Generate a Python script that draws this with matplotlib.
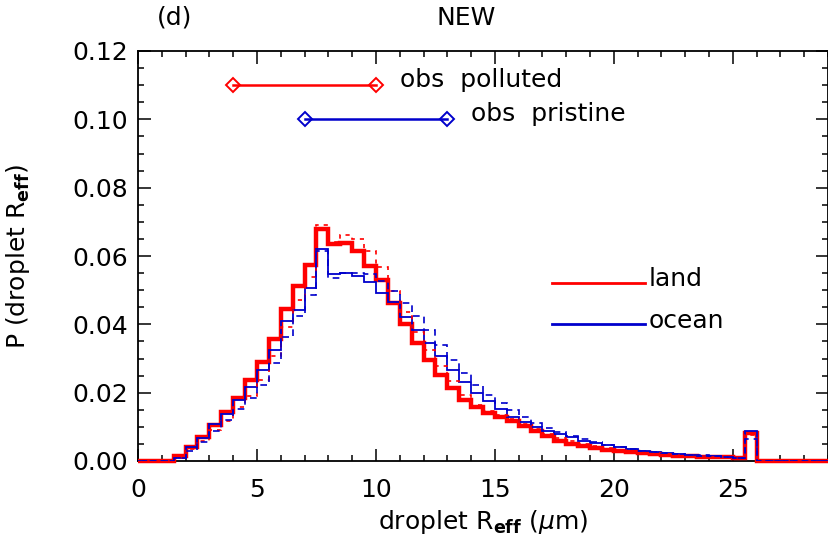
import numpy as np
import matplotlib
matplotlib.use('Agg')
import matplotlib.pyplot as plt
from matplotlib.ticker import MultipleLocator, FormatStrFormatter

plt.rcParams['font.family'] = 'DejaVu Sans'
plt.rcParams['mathtext.fontset'] = 'dejavusans'

# bin edges of the droplet Reff histogram (0.5 um bins, 0..29 um)
edges = np.arange(0, 29.01, 0.5)

# NEW model, land (thick red) and ocean (thin blue)
land_new = [0, 0, 0,
            0.0015, 0.0042, 0.0070, 0.0104, 0.0143, 0.0183, 0.0236, 0.0290, 0.0358, 0.0445,
            0.0512, 0.0575, 0.0680, 0.0634, 0.0637, 0.0615, 0.0572, 0.0530, 0.0463, 0.0400,
            0.0345, 0.0296, 0.0252, 0.0213, 0.0179, 0.0157, 0.0141, 0.0130, 0.0117, 0.0101,
            0.0088, 0.0073, 0.0060, 0.0051, 0.0043, 0.0037, 0.0032, 0.0028, 0.0025, 0.0023,
            0.0020, 0.0018, 0.0016, 0.0015, 0.0013, 0.0012, 0.0011, 0.0008, 0.0083,
            0, 0, 0, 0, 0, 0]
ocean_new = [0, 0, 0,
             0.0010, 0.0040, 0.0068, 0.0107, 0.0138, 0.0179, 0.0216, 0.0265, 0.0326, 0.0409,
             0.0443, 0.0507, 0.0621, 0.0546, 0.0551, 0.0541, 0.0523, 0.0493, 0.0465, 0.0422,
             0.0384, 0.0345, 0.0306, 0.0267, 0.0230, 0.0199, 0.0177, 0.0151, 0.0128, 0.0114,
             0.0100, 0.0088, 0.0078, 0.0069, 0.0059, 0.0052, 0.0046, 0.0040, 0.0034, 0.0029,
             0.0026, 0.0023, 0.0021, 0.0018, 0.0016, 0.0015, 0.0013, 0.0009, 0.0089,
             0, 0, 0, 0, 0, 0]
# reference model (dotted / dashed)
land_ref = [0, 0, 0,
            0.0010, 0.0035, 0.0060, 0.0090, 0.0118, 0.0158, 0.0190, 0.0238, 0.0306, 0.0392,
            0.0470, 0.0540, 0.0690, 0.0640, 0.0661, 0.0651, 0.0614, 0.0568, 0.0497, 0.0435,
            0.0379, 0.0326, 0.0277, 0.0233, 0.0194, 0.0164, 0.0145, 0.0135, 0.0122, 0.0108,
            0.0094, 0.0080, 0.0068, 0.0058, 0.0050, 0.0043, 0.0037, 0.0032, 0.0029, 0.0026,
            0.0023, 0.0021, 0.0019, 0.0017, 0.0015, 0.0013, 0.0012, 0.0009, 0.0075,
            0, 0, 0, 0, 0, 0]
ocean_ref = [0, 0, 0,
             0.0008, 0.0030, 0.0055, 0.0088, 0.0121, 0.0153, 0.0185, 0.0222, 0.0288, 0.0362,
             0.0425, 0.0485, 0.0615, 0.0535, 0.0549, 0.0551, 0.0546, 0.0526, 0.0497, 0.0463,
             0.0425, 0.0382, 0.0340, 0.0296, 0.0257, 0.0223, 0.0194, 0.0169, 0.0148, 0.0130,
             0.0112, 0.0096, 0.0084, 0.0073, 0.0063, 0.0055, 0.0048, 0.0041, 0.0035, 0.0030,
             0.0027, 0.0024, 0.0021, 0.0019, 0.0017, 0.0015, 0.0013, 0.0009, 0.0064,
             0, 0, 0, 0, 0, 0]

# observed ranges
obs_polluted = (4.0, 10.0, 0.110)
obs_pristine = (7.0, 13.0, 0.100)

red = '#ff0000'
blue = '#0000cc'
fs = 18

fig = plt.figure(figsize=(8.29, 5.45), dpi=100)
ax = fig.add_axes([138 / 829, 84 / 545, 690 / 829, 410 / 545])

ax.stairs(land_new, edges, color=red, lw=3.2, baseline=None, clip_on=False, zorder=3)
ax.stairs(ocean_new, edges, color=blue, lw=1.3, baseline=None, zorder=4)
ax.stairs(land_ref, edges, color=red, lw=1.2, ls=(0, (2.5, 3)), baseline=None, zorder=5)
ax.stairs(ocean_ref, edges, color=blue, lw=1.2, ls=(0, (4, 3)), baseline=None, zorder=5)

# obs ranges
ax.plot(obs_polluted[:2], [obs_polluted[2]] * 2, color=red, lw=1.8,
        marker='D', ms=7, mfc='none', mew=1.4)
ax.plot(obs_pristine[:2], [obs_pristine[2]] * 2, color=blue, lw=1.8,
        marker='D', ms=7, mfc='none', mew=1.4)
ax.text(11.0, 0.1115, 'obs  polluted', fontsize=fs, va='center', ha='left')
ax.text(14.0, 0.1015, 'obs  pristine', fontsize=fs, va='center', ha='left')

# legend drawn by hand, as in the original
ax.plot([17.4, 21.3], [0.0522, 0.0522], color=red, lw=2.0)
ax.plot([17.4, 21.3], [0.0400, 0.0400], color=blue, lw=2.0)
ax.text(21.45, 0.0532, 'land', fontsize=fs, va='center', ha='left')
ax.text(21.45, 0.0410, 'ocean', fontsize=fs, va='center', ha='left')

ax.set_xlim(0, 29)
ax.set_ylim(0, 0.12)
ax.xaxis.set_major_locator(MultipleLocator(5))
ax.xaxis.set_minor_locator(MultipleLocator(1))
ax.yaxis.set_major_locator(MultipleLocator(0.02))
ax.yaxis.set_minor_locator(MultipleLocator(0.005))
ax.yaxis.set_major_formatter(FormatStrFormatter('%.2f'))
ax.tick_params(which='both', direction='in', top=True, right=True, width=1.1,
               labelsize=fs)
ax.tick_params(which='major', length=9)
ax.tick_params(which='minor', length=4.5)
ax.tick_params(axis='x', pad=12)
ax.tick_params(axis='y', pad=7)
for s in ax.spines.values():
    s.set_linewidth(1.3)

ax.set_xlabel(r'droplet R$_{\mathbf{eff}}$ ($\mu$m)', fontsize=fs, va='center')
ax.xaxis.set_label_coords(0.5, -0.149)
ax.set_ylabel(r'P (droplet R$_{\mathbf{eff}}$)', fontsize=fs, va='center')
ax.yaxis.set_label_coords(-0.174, 0.5)

fig.text(175 / 829, 1 - 18 / 545, '(d)', fontsize=fs, ha='center', va='center')
fig.text(466 / 829, 1 - 18 / 545, 'NEW', fontsize=fs, ha='center', va='center')

fig.savefig('out.png', dpi=100)
